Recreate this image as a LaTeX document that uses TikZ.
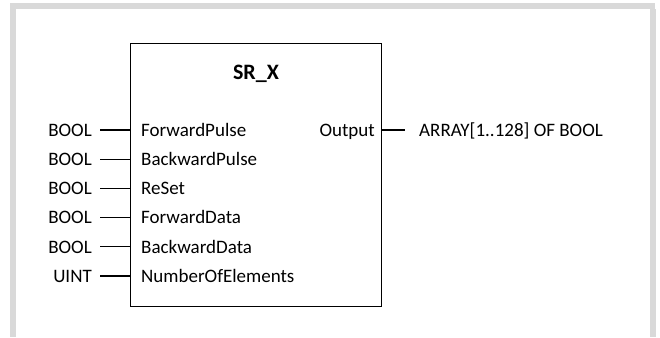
\documentclass[tikz,border=0pt]{standalone}
\usepackage{fontspec}
\setmainfont{Carlito}
\begin{document}
\begin{tikzpicture}[x=1pt,y=-1pt,
  lbl/.style={inner sep=0pt, font=\fontsize{19}{22}\selectfont},
  wire/.style={line width=1.3pt},
  fbbox/.style={draw, line width=1.3pt, inner sep=0pt, minimum width=251pt, minimum height=263pt},
  frame/.style={fill=black!15, draw=none}]
\useasboundingbox (0,0) rectangle (660,337);
% grey frame
\fill[frame] (10,3) rectangle (655,9);
\fill[frame] (10,3) rectangle (16,337);
\fill[frame] (650,9) rectangle (656,337);
% function block
\node[fbbox, anchor=north west] (box) at (130,43) {};
\node[inner sep=0pt, font=\fontsize{22}{26}\selectfont\bfseries, anchor=base] (title) at (256,79) {SR\_X};
% inputs
\foreach \i/\t/\n in {0/BOOL/ForwardPulse,1/BOOL/BackwardPulse,2/BOOL/ReSet,3/BOOL/ForwardData,4/BOOL/BackwardData,5/UINT/NumberOfElements}{
  \pgfmathsetmacro{\yy}{130+29.2*\i}
  \node[lbl, anchor=base west] (in\i) at (141,\yy+6.2) {\n};
  \node[lbl, anchor=base east] (ty\i) at (92,\yy+6.2) {\t};
  \coordinate (c\i) at (100,\yy);
  \draw[wire] (c\i) -- (box.west |- c\i);
}
% output
\node[lbl, anchor=base east] (out) at (375,136.2) {Output};
\node[lbl, anchor=base west] (outty) at (419,136.2) {ARRAY[1..128] OF BOOL};
\coordinate (co) at (405,130);
\draw[wire] (box.east |- co) -- (co);
\end{tikzpicture}
\end{document}
